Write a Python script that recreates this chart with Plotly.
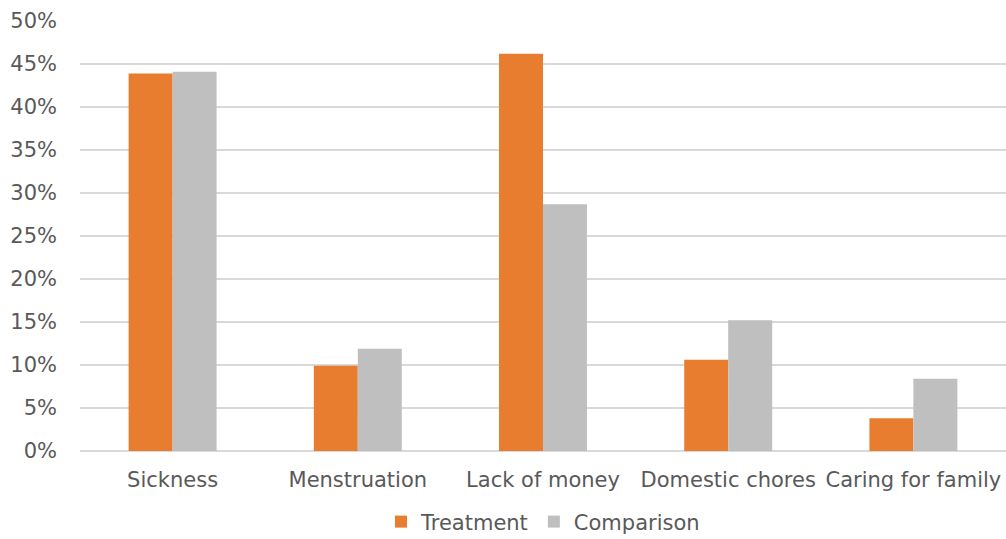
import plotly.graph_objects as go

categories = ["Sickness", "Menstruation", "Lack of money", "Domestic chores", "Caring for family"]
treatment = [43.9, 9.9, 46.2, 10.6, 3.8]
comparison = [44.1, 11.9, 28.7, 15.2, 8.4]
tick_vals = [0, 5, 10, 15, 20, 25, 30, 35, 40, 45, 50]
tick_text = [f"{v}%" for v in tick_vals]

FONT = "DejaVu Sans"
TXT = "#595959"

fig = go.Figure()
fig.add_trace(go.Bar(name="Treatment", x=categories, y=treatment, marker_color="#E87D2F",
                     marker_line_width=0))
fig.add_trace(go.Bar(name="Comparison", x=categories, y=comparison, marker_color="#BFBFBF",
                     marker_line_width=0))

fig.update_layout(
    width=1006, height=539,
    margin=dict(l=80, r=0, t=21, b=88, autoexpand=False),
    paper_bgcolor="white", plot_bgcolor="white",
    barmode="group", bargap=0.525, bargroupgap=0,
    font=dict(family=FONT, size=21, color=TXT),
    showlegend=True,
    legend=dict(orientation="h", x=0.5, xanchor="center", y=-0.165, yanchor="middle",
                font=dict(family=FONT, size=21, color=TXT), itemwidth=30),
)
fig.update_yaxes(range=[0, 50], tickmode="array", tickvals=tick_vals, ticktext=tick_text,
                 showgrid=True, gridcolor="#D9D9D9", gridwidth=1.5,
                 zeroline=True, zerolinecolor="#D9D9D9", zerolinewidth=1.5,
                 showline=False, ticks="", ticklabelstandoff=22,
                 tickfont=dict(family=FONT, size=21, color=TXT))
fig.update_xaxes(showgrid=False, showline=False, ticks="", ticklabelstandoff=14,
                 tickfont=dict(family=FONT, size=21, color=TXT))

fig.write_html("out.html")
